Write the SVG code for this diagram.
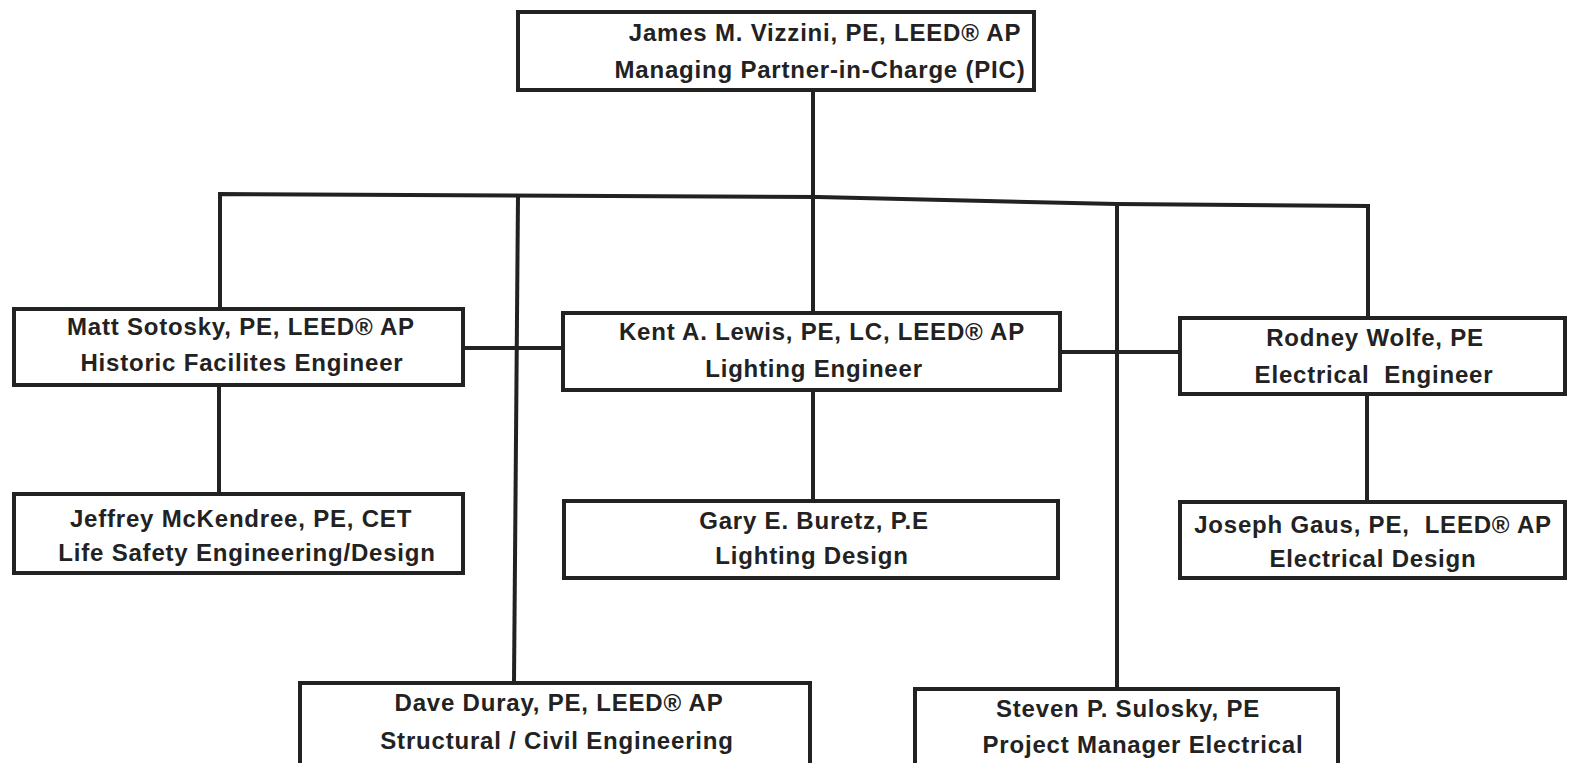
<svg xmlns="http://www.w3.org/2000/svg" width="1570" height="763" viewBox="0 0 1570 763">
<style>
.box{fill:#fff;stroke:#222;stroke-width:4}
.ln{stroke:#222;stroke-width:4;fill:none}
text{font-family:"Liberation Sans",Arial,sans-serif;font-weight:bold;font-size:24px;letter-spacing:0.8px;fill:#222;text-anchor:middle;white-space:pre}
</style>
<rect width="1570" height="763" fill="#fff"/>
<g id="connectors">
<line class="ln" x1="813" y1="90" x2="813" y2="313"/>
<polyline class="ln" points="220,309 220,194 818,197 1117,204 1368,206 1368,318"/>
<line class="ln" x1="518" y1="196" x2="514" y2="682"/>
<line class="ln" x1="1117" y1="204" x2="1117" y2="688"/>
<line class="ln" x1="463" y1="348" x2="563" y2="348"/>
<line class="ln" x1="1060" y1="352" x2="1180" y2="352"/>
<line class="ln" x1="219" y1="385" x2="219" y2="493"/>
<line class="ln" x1="813" y1="390" x2="813" y2="500"/>
<line class="ln" x1="1367" y1="394" x2="1367" y2="500"/>
</g>
<g id="n_vizzini"><rect class="box" x="518" y="12" width="516" height="78"/>
<text x="825" y="41">James M. Vizzini, PE, LEED® AP</text><text x="820" y="78">Managing Partner-in-Charge (PIC)</text></g>
<g id="n_sotosky"><rect class="box" x="14" y="309" width="449" height="76"/>
<text x="241" y="335">Matt Sotosky, PE, LEED® AP</text><text x="242" y="371">Historic Facilites Engineer</text></g>
<g id="n_lewis"><rect class="box" x="563" y="313" width="497" height="77"/>
<text x="822" y="340">Kent A. Lewis, PE, LC, LEED® AP</text><text x="814" y="377">Lighting Engineer</text></g>
<g id="n_wolfe"><rect class="box" x="1180" y="318" width="385" height="76"/>
<text x="1375" y="346">Rodney Wolfe, PE</text><text x="1374" y="383">Electrical  Engineer</text></g>
<g id="n_mckendree"><rect class="box" x="14" y="494" width="449" height="79"/>
<text x="241" y="527">Jeffrey McKendree, PE, CET</text><text x="247" y="561">Life Safety Engineering/Design</text></g>
<g id="n_buretz"><rect class="box" x="564" y="501" width="494" height="77"/>
<text x="814" y="529">Gary E. Buretz, P.E</text><text x="812" y="564">Lighting Design</text></g>
<g id="n_gaus"><rect class="box" x="1180" y="502" width="385" height="76"/>
<text x="1373" y="533">Joseph Gaus, PE,  LEED® AP</text><text x="1373" y="567">Electrical Design</text></g>
<g id="n_duray"><rect class="box" x="300" y="683" width="510" height="84"/>
<text x="559" y="711">Dave Duray, PE, LEED® AP</text><text x="557" y="749">Structural / Civil Engineering</text></g>
<g id="n_sulosky"><rect class="box" x="915" y="689" width="423" height="78"/>
<text x="1128" y="717">Steven P. Sulosky, PE</text><text x="1143" y="753">Project Manager Electrical</text></g>
</svg>
